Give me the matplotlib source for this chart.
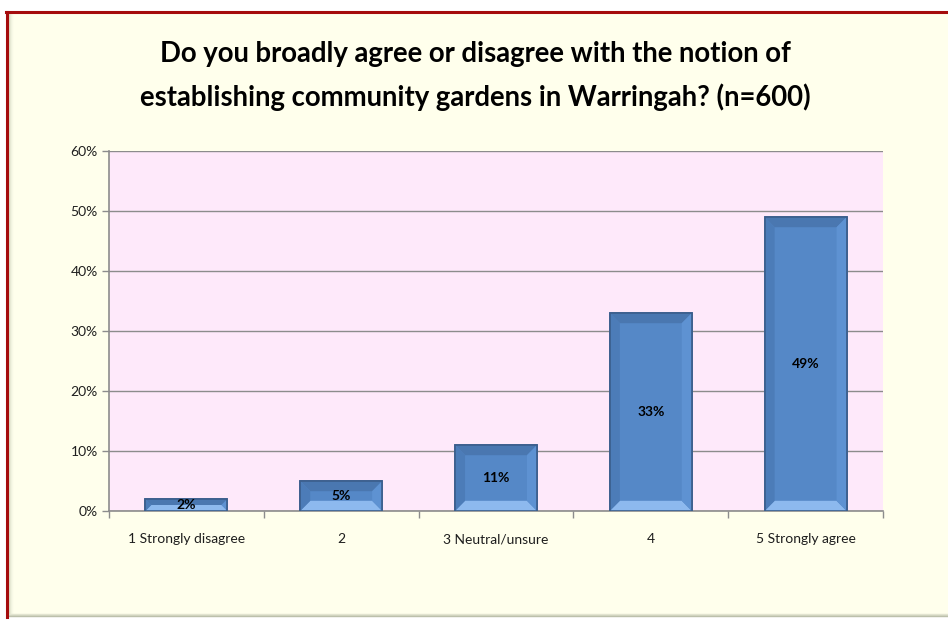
import matplotlib
matplotlib.use("Agg")
import matplotlib.pyplot as plt
from matplotlib.patches import Polygon, Rectangle
from matplotlib.lines import Line2D
from matplotlib.ticker import FixedLocator, FuncFormatter

categories = ["1 Strongly disagree", "2", "3 Neutral/unsure", "4", "5 Strongly agree"]
values = [2, 5, 11, 33, 49]
y_ticks = [0, 10, 20, 30, 40, 50, 60]
title = ("Do you broadly agree or disagree with the notion of\n"
         "establishing community gardens in Warringah? (n=600)")

FONT = ["Lato", "DejaVu Sans"]
BG = "#FFFFEC"
PLOT_BG = "#FEE9FA"
BAR = "#5588C7"
EDGE = "#3B5E8C"

W, H = 948, 621
fig = plt.figure(figsize=(W / 100, H / 100), dpi=100)
fig.patch.set_facecolor("white")

# outer chart frame
fig.patches.append(Rectangle((7 / W, 6 / H), 960 / W, (H - 12 - 6) / H,
                             transform=fig.transFigure, facecolor=BG,
                             edgecolor="none", zorder=-5))
for i, c in enumerate(["#D9DCC4", "#E6E8D2", "#F0F2DE", "#F8F9E6"]):
    fig.lines.append(Line2D([(9 + i) / W, (9 + i) / W], [6 / H, (H - 14) / H],
                            transform=fig.transFigure, color=c, lw=1, zorder=-4))
for i, c in enumerate(["#B8BCA8", "#CED1BC", "#E2E4D0"]):
    fig.lines.append(Line2D([9 / W, 1], [(5 + i) / H, (5 + i) / H],
                            transform=fig.transFigure, color=c, lw=1, zorder=-4))
fig.lines.append(Line2D([7 / W, 7 / W], [4 / H, (H - 12) / H],
                        transform=fig.transFigure, color="#A50C0C", lw=2.2, zorder=-3))
fig.lines.append(Line2D([6 / W, 1], [(H - 12) / H, (H - 12) / H],
                        transform=fig.transFigure, color="#A50C0C", lw=2.2, zorder=-3))

ax = fig.add_axes([109 / W, (H - 511) / H, (883 - 109) / W, (511 - 151) / H])
ax.set_zorder(1)
ax.set_facecolor(PLOT_BG)

x = list(range(len(categories)))
bw = 0.53
bars = ax.bar(x, values, width=bw, color=BAR, edgecolor=EDGE, linewidth=1.2, zorder=3)

# bevelled faces on each bar
bx, by = 0.065, 1.7
for rect in bars:
    x0 = rect.get_x()
    x1 = x0 + rect.get_width()
    h = rect.get_height()
    b_y = min(by, h / 2.0)
    b_x = bx * b_y / by if b_y < by else bx
    faces = [
        ([(x0, h), (x1, h), (x1 - b_x, h - b_y), (x0 + b_x, h - b_y)], "#4A77B0"),
        ([(x0, 0), (x1, 0), (x1 - b_x, b_y), (x0 + b_x, b_y)], "#8DB9EE"),
        ([(x0, 0), (x0, h), (x0 + b_x, h - b_y), (x0 + b_x, b_y)], "#4C7CB8"),
        ([(x1, 0), (x1, h), (x1 - b_x, h - b_y), (x1 - b_x, b_y)], "#5E92D2"),
    ]
    for pts, col in faces:
        ax.add_patch(Polygon(pts, closed=True, facecolor=col, edgecolor="none", zorder=4))
    ax.add_patch(Rectangle((x0, 0), x1 - x0, h, facecolor="none",
                           edgecolor=EDGE, linewidth=1.2, zorder=5))
    ax.text(x0 + (x1 - x0) / 2, h / 2, f"{h:.0f}%", ha="center", va="center",
            fontsize=10, fontweight="bold", family=FONT, color="black", zorder=6)

ax.set_xlim(-0.5, len(categories) - 0.5)
ax.set_ylim(0, 60)
ax.yaxis.set_major_locator(FixedLocator(y_ticks))
ax.yaxis.set_major_formatter(FuncFormatter(lambda v, p: f"{v:.0f}%"))
ax.grid(axis="y", color="#8C8C8C", linewidth=1.0, zorder=1)
ax.set_axisbelow(True)

ax.set_xticks(x)
ax.set_xticklabels(categories)
ax.set_xticks([i - 0.5 for i in range(len(categories) + 1)], minor=True)
ax.tick_params(axis="x", which="major", length=0, pad=16)
ax.tick_params(axis="x", which="minor", length=5, color="#8C8C8C", width=1)
ax.tick_params(axis="y", length=5, color="#8C8C8C", width=1, pad=3)
for lab in ax.get_xticklabels() + ax.get_yticklabels():
    lab.set_family(FONT)
    lab.set_fontsize(10)
    lab.set_color("#1E1E1E")

for s in ["top", "right"]:
    ax.spines[s].set_visible(False)
for s in ["left", "bottom"]:
    ax.spines[s].set_color("#8C8C8C")
    ax.spines[s].set_linewidth(1.2)

fig.text(475 / W, 1 - 76 / H, title, ha="center", va="center", fontsize=19.8,
         fontweight="bold", family=FONT, color="black", linespacing=1.7)

fig.savefig("out.png", dpi=100, facecolor=fig.get_facecolor())
